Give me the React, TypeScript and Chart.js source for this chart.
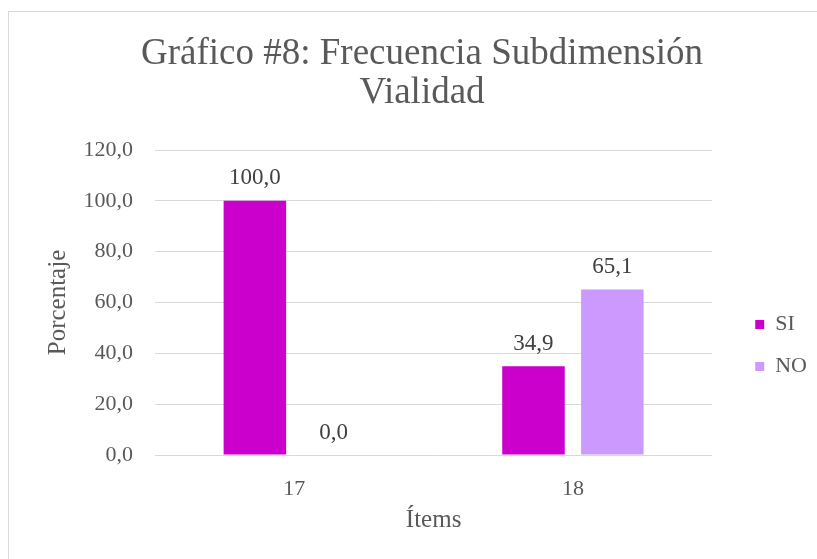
import React, { useEffect, useRef } from 'react';
import { Chart, registerables } from 'chart.js';

Chart.register(...registerables);

// ---- data ----
const categories = ['17', '18'];
const seriesNames = ['SI', 'NO'];
const siValues = [100.0, 34.9];
const noValues = [0.0, 65.1];
const titleLines = ['Gráfico #8: Frecuencia Subdimensión', 'Vialidad'];
const xAxisTitle = 'Ítems';
const yAxisTitle = 'Porcentaje';
const yMin = 0;
const yMax = 120;
const yStep = 20;

const FONT = "'Liberation Serif', 'Times New Roman', serif";
const TEXT = '#595959';
const LABEL = '#404040';
const GRID = '#d9d9d9';
const SI_COLOR = '#CC00CC';
const NO_COLOR = '#CC99FF';

const fmt = (v: number) => Number(v).toFixed(1).replace('.', ',');

const dataLabelPlugin = {
  id: 'dataLabels',
  afterDatasetsDraw(chart: any) {
    const ctx = chart.ctx;
    ctx.save();
    ctx.font = `23px ${FONT}`;
    ctx.fillStyle = LABEL;
    ctx.textAlign = 'center';
    ctx.textBaseline = 'alphabetic';
    chart.data.datasets.forEach((ds: any, i: number) => {
      const meta = chart.getDatasetMeta(i);
      meta.data.forEach((bar: any, j: number) => {
        const v = ds.data[j];
        ctx.fillText(fmt(v), bar.x, bar.y - 16.5);
      });
    });
    ctx.restore();
  },
};

export default function App() {
  const ref = useRef<HTMLCanvasElement | null>(null);

  useEffect(() => {
    if (!ref.current) return;
    const chart = new Chart(ref.current, {
      type: 'bar',
      data: {
        labels: categories,
        datasets: [
          {
            label: seriesNames[0],
            data: siValues,
            backgroundColor: SI_COLOR,
            borderWidth: 0,
            categoryPercentage: 0.566,
            barPercentage: 0.793,
            yAxisID: 'y',
          },
          {
            label: seriesNames[1],
            data: noValues,
            backgroundColor: NO_COLOR,
            borderWidth: 0,
            categoryPercentage: 0.566,
            barPercentage: 0.793,
            yAxisID: 'y',
          },
        ],
      },
      options: {
        responsive: false,
        animation: false,
        layout: { padding: { left: 27, right: 0, top: 0, bottom: 0 } },
        plugins: {
          title: {
            display: true,
            text: titleLines,
            color: TEXT,
            font: { family: FONT, size: 37, weight: 'normal', lineHeight: '39px' },
            padding: { top: 34.5, bottom: 37.5 },
          },
          legend: {
            position: 'right',
            labels: {
              boxWidth: 9,
              boxHeight: 9,
              padding: 20,
              color: TEXT,
              font: { family: FONT, size: 22 },
            },
            title: {
              display: true,
              text: '',
              padding: { top: 120, bottom: 0 },
              font: { size: 12, lineHeight: 1 },
            },
          },
          tooltip: { enabled: false },
        },
        scales: {
          x: {
            grid: { display: false },
            border: { display: false },
            ticks: { color: TEXT, font: { family: FONT, size: 22 }, padding: 13 },
            title: {
              display: true,
              text: xAxisTitle,
              color: TEXT,
              font: { family: FONT, size: 25 },
              padding: { top: 0, bottom: 24 },
            },
            afterFit: (s: any) => {
              s.height = 104;
            },
          },
          y: {
            min: yMin,
            max: yMax,
            ticks: {
              stepSize: yStep,
              callback: (v: any) => fmt(v),
              color: TEXT,
              font: { family: FONT, size: 22 },
              padding: 22,
            },
            grid: { color: GRID, drawTicks: false, lineWidth: 1 },
            border: { display: false },
            title: {
              display: true,
              text: yAxisTitle,
              color: TEXT,
              font: { family: FONT, size: 25 },
              padding: { top: 16, bottom: 0 },
            },
            afterFit: (s: any) => {
              s.width = 128;
            },
          },
          spacer: {
            type: 'linear',
            position: 'right',
            display: true,
            grid: { display: false },
            ticks: { display: false },
            border: { display: false },
            afterFit: (s: any) => {
              s.width = 23;
            },
          },
        },
      } as any,
      plugins: [dataLabelPlugin],
    });
    return () => chart.destroy();
  }, []);

  return (
    <div
      style={{
        position: 'fixed',
        left: 0,
        top: 0,
        width: 817,
        height: 559,
        overflow: 'hidden',
        background: '#ffffff',
      }}
    >
      <div
        style={{
          position: 'absolute',
          left: 8,
          top: 11,
          width: 900,
          height: 700,
          border: `1px solid ${GRID}`,
          boxSizing: 'border-box',
        }}
      />
      <canvas
        ref={ref}
        width={817}
        height={559}
        style={{ position: 'absolute', left: 0, top: 0, width: 817, height: 559 }}
      />
    </div>
  );
}
